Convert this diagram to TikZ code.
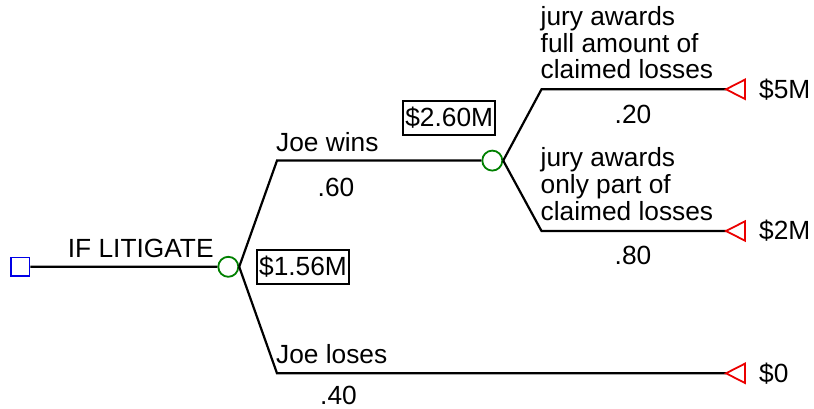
\documentclass[tikz,border=0pt]{standalone}
\usepackage{fontspec}
\setmainfont{Liberation Sans}
\definecolor{dgreen}{RGB}{0,128,0}
\definecolor{dblue}{RGB}{0,0,230}
\definecolor{dred}{RGB}{235,0,0}
\begin{document}
\begin{tikzpicture}[x=1pt,y=-1pt,
  lbl/.style={font=\fontsize{26.3}{26.2}\selectfont, inner sep=0pt},
  valbox/.style={lbl, draw, line width=1.8pt, minimum width=92pt, minimum height=34pt},
  chance/.style={circle, draw=dgreen, line width=1.8pt, minimum size=20pt, inner sep=0pt},
  decision/.style={rectangle, draw=dblue, line width=1.8pt, minimum size=18.5pt, inner sep=0pt},
  branch/.style={line width=2.2pt},
  termtri/.style={draw=dred, line width=1.8pt}]
\useasboundingbox (0,0) rectangle (814,409);
% nodes
\node[decision] (sq) at (20.2,266.7) {};
\node[chance] (c1) at (228.3,266.8) {};
\node[chance] (c2) at (492.3,160.6) {};
\coordinate (k1) at (277,160.6);
\coordinate (k2) at (277,373.3);
\coordinate (k3) at (541.5,89.3);
\coordinate (k4) at (541.5,231);
\coordinate (t1) at (726,89.3);
\coordinate (t2) at (726,231);
\coordinate (t3) at (726,373.3);
% connectors
\draw[branch] (sq.east) -- (c1.west);
\draw[branch] (c1.east) -- (k1) -- (c2.west);
\draw[branch] (c1.east) -- (k2) -- (t3);
\draw[branch] (c2.east) -- (k3) -- (t1);
\draw[branch] (c2.east) -- (k4) -- (t2);
% terminal triangles
\foreach \t in {t1,t2,t3}{
  \draw[termtri] (\t) -- ++(19,-9.7) -- ++(0,19.4) -- cycle;
}
% labels
\node[lbl, anchor=base west] (litig) at (67.7,257.3) {IF LITIGATE};
\node[valbox] (v1) at (303,266.7) {\$1.56M};
\node[valbox] (v2) at (449.2,117.8) {\$2.60M};
\node[lbl, anchor=base west] (jw) at (276,151.7) {Joe wins};
\node[lbl, anchor=base] (p60) at (336,196.8) {.60};
\node[lbl, anchor=base west] (jl) at (276,363) {Joe loses};
\node[lbl, anchor=base] (p40) at (338.5,404) {.40};
\node[lbl, anchor=base west] (ja) at (540.5,79) {\begin{tabular}[b]{@{}l@{}}jury awards\\full amount of\\claimed losses\end{tabular}};
\node[lbl, anchor=base] (p20) at (633,123.5) {.20};
\node[lbl, anchor=base west] (jb) at (540.5,220) {\begin{tabular}[b]{@{}l@{}}jury awards\\only part of\\claimed losses\end{tabular}};
\node[lbl, anchor=base] (p80) at (633,264.3) {.80};
\node[lbl, anchor=west] (o1) at (759,89.3) {\$5M};
\node[lbl, anchor=west] (o2) at (759,231) {\$2M};
\node[lbl, anchor=west] (o3) at (759,373.3) {\$0};
\end{tikzpicture}
\end{document}
